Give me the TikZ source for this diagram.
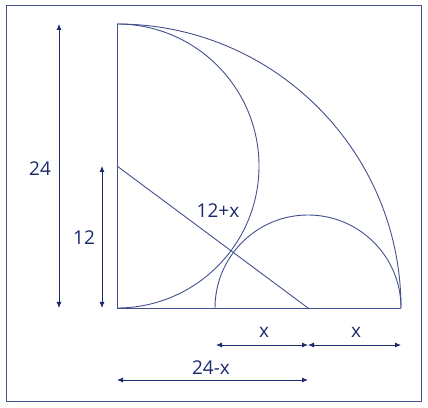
\documentclass[tikz,border=0pt]{standalone}
\usepackage{fontspec}
\setmainfont{Open Sans}
\usetikzlibrary{arrows.meta}
\definecolor{navy}{HTML}{1B2A6B}
\definecolor{shape}{HTML}{42508E}
\begin{document}
\begin{tikzpicture}[x=1pt,y=1pt,
  geo/.style={draw=shape,line width=0.9pt},
  dim/.style={draw=navy,line width=0.8pt,{Latex[length=6pt,width=5pt]}-{Latex[length=6pt,width=5pt]}},
  lbl/.style={text=navy,font=\fontsize{19}{22}\selectfont,inner sep=0pt}]
\useasboundingbox (0,0) rectangle (428,407);
\draw[draw=shape,line width=1pt] (6,6) rectangle (421,401);
% key points
\coordinate (O) at (117,99);
\coordinate (A) at (117,383);
\coordinate (B) at (401,99);
\coordinate (M) at (117,241);
\coordinate (C) at (308,99);
\coordinate (L) at (215,99);
% shapes
\draw[geo] (O) -- (A);
\draw[geo] (O) -- (B);
\draw[geo] (A) arc[start angle=90,end angle=0,radius=284];
\draw[geo] (A) arc[start angle=90,end angle=-90,radius=142];
\draw[geo] (L) arc[start angle=180,end angle=0,radius=93];
\draw[geo] (M) -- (C);
% dimension arrows
\coordinate (d24a) at (59,99);  \coordinate (d24b) at (59,383);
\coordinate (d12a) at (102,99); \coordinate (d12b) at (102,241);
\coordinate (x1a) at (216,62);  \coordinate (x1b) at (308,62);
\coordinate (x2a) at (308,62);  \coordinate (x2b) at (401,62);
\coordinate (ya) at (117,27);   \coordinate (yb) at (308,27);
\draw[dim] (d24a) -- (d24b);
\draw[dim] (d12a) -- (d12b);
\draw[dim] (x1a) -- (x1b);
\draw[dim] (x2a) -- (x2b);
\draw[dim] (ya) -- (yb);
% labels
\node[lbl] (t24) at (40,238) {24};
\node[lbl] (t12) at (84,169) {12};
\node[lbl] (t12x) at (218,196) {12+x};
\node[lbl] (tx1) at (264,75) {x};
\node[lbl] (tx2) at (356,75) {x};
\node[lbl] (t24x) at (211,39) {24-x};
\end{tikzpicture}
\end{document}
